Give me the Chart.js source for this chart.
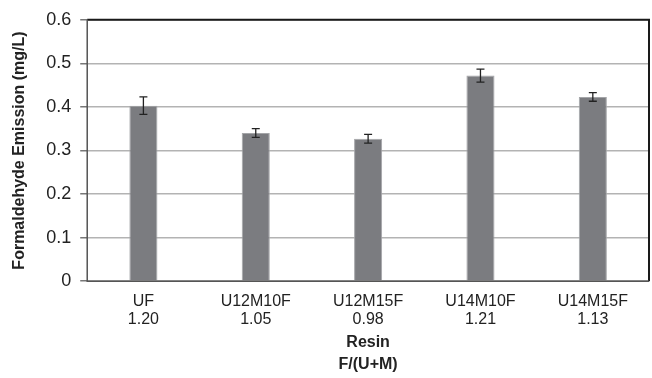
<!DOCTYPE html>
<html>
<head>
<meta charset="utf-8">
<script src="https://cdn.jsdelivr.net/npm/chart.js@4/dist/chart.umd.min.js"></script>
<style>
  html, body { margin: 0; padding: 0; background: #fff; }
  #wrap { width: 652px; height: 378px; position: relative; }
</style>
</head>
<body>
<div id="wrap"><canvas id="canvas"></canvas></div>
<script>
const resins = ["UF", "U12M10F", "U12M15F", "U14M10F", "U14M15F"];
const ratios = ["1.20", "1.05", "0.98", "1.21", "1.13"];
const emission = [0.403, 0.340, 0.327, 0.472, 0.423];
const errors = [0.020, 0.010, 0.010, 0.015, 0.010];

const yTicks = [0, 0.1, 0.2, 0.3, 0.4, 0.5, 0.6];

// labels are two lines: resin name + F/(U+M)
let labels = [];
for (let i = 0; i < resins.length; i++) {
    labels.push([resins[i], ratios[i]]);
}

// plot frame + error bars, drawn over the bars
const overlay = {
    id: 'overlayMarks',
    afterDatasetsDraw(chart) {
        const c = chart.ctx;
        const a = chart.chartArea;
        const meta = chart.getDatasetMeta(0);
        const y = chart.scales.y;
        c.save();

        c.strokeStyle = '#1a1a1a';
        c.lineWidth = 2;
        c.beginPath();
        c.moveTo(a.left, a.top);
        c.lineTo(a.right, a.top);
        c.lineTo(a.right, a.bottom);
        c.stroke();
        c.strokeStyle = '#555';
        c.lineWidth = 1.5;
        c.beginPath();
        c.moveTo(a.left, a.top);
        c.lineTo(a.left, a.bottom);
        c.lineTo(a.right, a.bottom);
        c.stroke();

        c.strokeStyle = '#222';
        c.lineWidth = 1.3;
        meta.data.forEach(function (bar, i) {
            let x = bar.x;
            let top = y.getPixelForValue(emission[i] + errors[i]);
            let bot = y.getPixelForValue(emission[i] - errors[i]);
            c.beginPath();
            c.moveTo(x, top); c.lineTo(x, bot);
            c.moveTo(x - 4, top); c.lineTo(x + 4, top);
            c.moveTo(x - 4, bot); c.lineTo(x + 4, bot);
            c.stroke();
        });
        c.restore();
    }
};

let ctx = document.getElementById("canvas").getContext("2d");
const mychart = new Chart(ctx, {
    type: 'bar',
    data: {
        labels: labels,
        datasets: [{
            label: "Formaldehyde Emission",
            data: emission,
            backgroundColor: '#7b7c80',
            borderColor: '#a4a5a8',
            borderWidth: 1,
            barPercentage: 0.25,
            categoryPercentage: 1.0
        }]
    },
    options: {
        responsive: true,
        maintainAspectRatio: false,
        animation: false,
        layout: { padding: { top: 9, right: 3, left: 10, bottom: 2 } },
        plugins: {
            legend: { display: false },
            tooltip: { enabled: false }
        },
        scales: {
            x: {
                grid: { display: false, drawTicks: false },
                border: { display: false },
                afterFit: function (scale) { scale.height -= 10; },
                ticks: {
                    color: '#222',
                    font: { family: 'Liberation Sans, Arial', size: 16, lineHeight: 1.15 },
                    padding: 11,
                    maxRotation: 0
                },
                title: {
                    display: true,
                    text: ['Resin', 'F/(U+M)'],
                    color: '#222',
                    font: { family: 'Liberation Sans, Arial', size: 16, weight: 'bold', lineHeight: 1.375 },
                    padding: { top: 2, bottom: 0 }
                }
            },
            y: {
                min: 0,
                max: 0.6,
                afterBuildTicks: function (axis) {
                    axis.ticks = yTicks.map(function (v) { return { value: v }; });
                },
                grid: {
                    color: '#b3b3b3',
                    lineWidth: 1.5,
                    tickLength: 7,
                    tickColor: '#777'
                },
                border: { display: false },
                ticks: {
                    color: '#222',
                    font: { family: 'Liberation Sans, Arial', size: 18 },
                    padding: 9,
                    callback: function (v) { return String(Math.round(v * 10) / 10); }
                },
                title: {
                    display: true,
                    text: 'Formaldehyde Emission (mg/L)',
                    color: '#222',
                    font: { family: 'Liberation Sans, Arial', size: 16, weight: 'bold' },
                    padding: { top: 0, bottom: 8 }
                }
            }
        }
    },
    plugins: [overlay]
});
</script>
</body>
</html>
